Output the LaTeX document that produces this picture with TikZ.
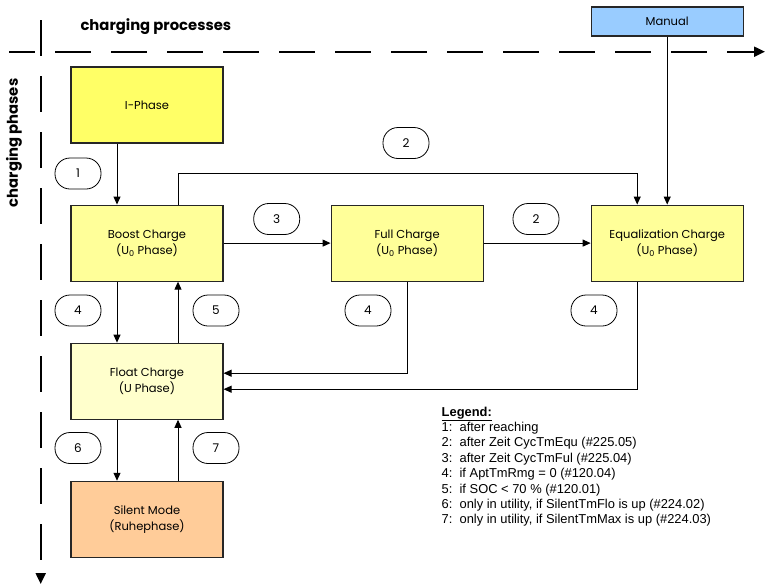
\documentclass[tikz,border=0pt]{standalone}
\usepackage{fontspec}
\setmainfont{Poppins}
\newfontfamily\legendfont{Liberation Sans}
\usetikzlibrary{arrows.meta, positioning}
\definecolor{chyellow}{HTML}{FFFF66}
\definecolor{chlight}{HTML}{FFFF99}
\definecolor{chpale}{HTML}{FFFFCC}
\definecolor{chorange}{HTML}{FFCC99}
\definecolor{chblue}{HTML}{99CCFF}

\begin{document}
\begin{tikzpicture}[
    x=1pt, y=-1pt,
    node distance=61pt and 107pt,
    phase/.style={rectangle, draw=black!85, fill=#1, line width=1.1pt,
                  minimum width=152pt, minimum height=76pt, align=center,
                  inner sep=0pt, font=\fontsize{11.5}{16}\selectfont},
    cond/.style={rectangle, rounded corners=15pt, draw=black, line width=0.8pt,
                  minimum width=46pt, minimum height=31pt, inner sep=0pt,
                  font=\fontsize{12}{14}\selectfont},
    arrow/.style={-{Triangle[length=8pt, width=7pt]}, line width=1pt, black},
    axis/.style={-{Triangle[length=11pt, width=10pt]}, line width=2pt,
                  dash pattern=on 36pt off 20pt}
  ]
    \useasboundingbox (0,0) rectangle (765,584);
    % axes
    \coordinate (hstart) at (9,51.7);
    \coordinate (hend) at (765,51.7);
    \coordinate (vstart) at (40.7,20);
    \coordinate (vend) at (40.7,584);
    \draw[axis, dash phase=10pt] (hstart) -- (hend);
    \draw[axis] (vstart) -- (vend);
    \node[anchor=west, font=\bfseries\fontsize{14.8}{17}\selectfont] (processes) at (77,27) {charging processes};
    \node[rotate=90, font=\bfseries\fontsize{14.8}{17}\selectfont] (phases) at (14,143) {charging phases};
    % phases
    \node[phase=chyellow] (iphase) at (147,105) {I-Phase};
    \node[phase=chlight, below=of iphase] (boost) {Boost Charge\\(U\textsubscript{0} Phase)};
    \node[phase=chlight, right=of boost] (full) {Full Charge\\(U\textsubscript{0} Phase)};
    \node[phase=chlight, right=of full] (equal) {Equalization Charge\\(U\textsubscript{0} Phase)};
    \node[phase=chpale, below=of boost] (float) {Float Charge\\(U Phase)};
    \node[phase=chorange, below=of float] (silent) {Silent Mode\\(Ruhephase)};
    \node[phase=chblue, minimum height=29pt, above=168pt of equal] (manual) {Manual};
    % conditions
    \node[cond] (c1) at (78,173.5) {1};
    \node[cond] (c2top) at (406,143) {2};
    \node[cond] (c3) at (276.7,219) {3};
    \node[cond] (c2) at (536,219) {2};
    \node[cond] (c4a) at (78,310.5) {4};
    \node[cond] (c5) at (216,310.5) {5};
    \node[cond] (c4b) at (368,310.5) {4};
    \node[cond] (c4c) at (594,310.5) {4};
    \node[cond] (c6) at (78,448) {6};
    \node[cond] (c7) at (216,448) {7};
    % transitions
    \draw[arrow] ([xshift=-30pt]iphase.south) -- ([xshift=-30pt]boost.north);
    \draw[arrow] (boost) -- (full);
    \draw[arrow] (full) -- (equal);
    \draw[arrow] ([xshift=31pt]boost.north) -- ++(0,-30.7) -| ([xshift=-30pt]equal.north);
    \draw[arrow] (manual) -- (equal);
    \draw[arrow] ([xshift=-30pt]boost.south) -- ([xshift=-30pt]float.north);
    \draw[arrow] ([xshift=31pt]float.north) -- ([xshift=31pt]boost.south);
    \draw[arrow] (full.south) |- ([yshift=8pt]float.east);
    \draw[arrow] ([xshift=-30pt]equal.south) |- ([yshift=-8pt]float.east);
    \draw[arrow] ([xshift=-30pt]float.south) -- ([xshift=-30pt]silent.north);
    \draw[arrow] ([xshift=31pt]silent.north) -- ([xshift=31pt]float.south);
    % legend
    \node[anchor=north west, inner sep=0pt, align=left,
          font=\legendfont\fontsize{12.9}{15.4}\selectfont] (legend) at (441.5,406.5)
          {\underline{\textbf{Legend:}}\\
           1:~~after reaching\\
           2:~~after Zeit CycTmEqu (\#225.05)\\
           3:~~after Zeit CycTmFul (\#225.04)\\
           4:~~if AptTmRmg = 0 (\#120.04)\\
           5:~~if SOC < 70 \% (\#120.01)\\
           6:~~only in utility, if SilentTmFlo is up (\#224.02)\\
           7:~~only in utility, if SilentTmMax is up (\#224.03)};
  \end{tikzpicture}
\end{document}
